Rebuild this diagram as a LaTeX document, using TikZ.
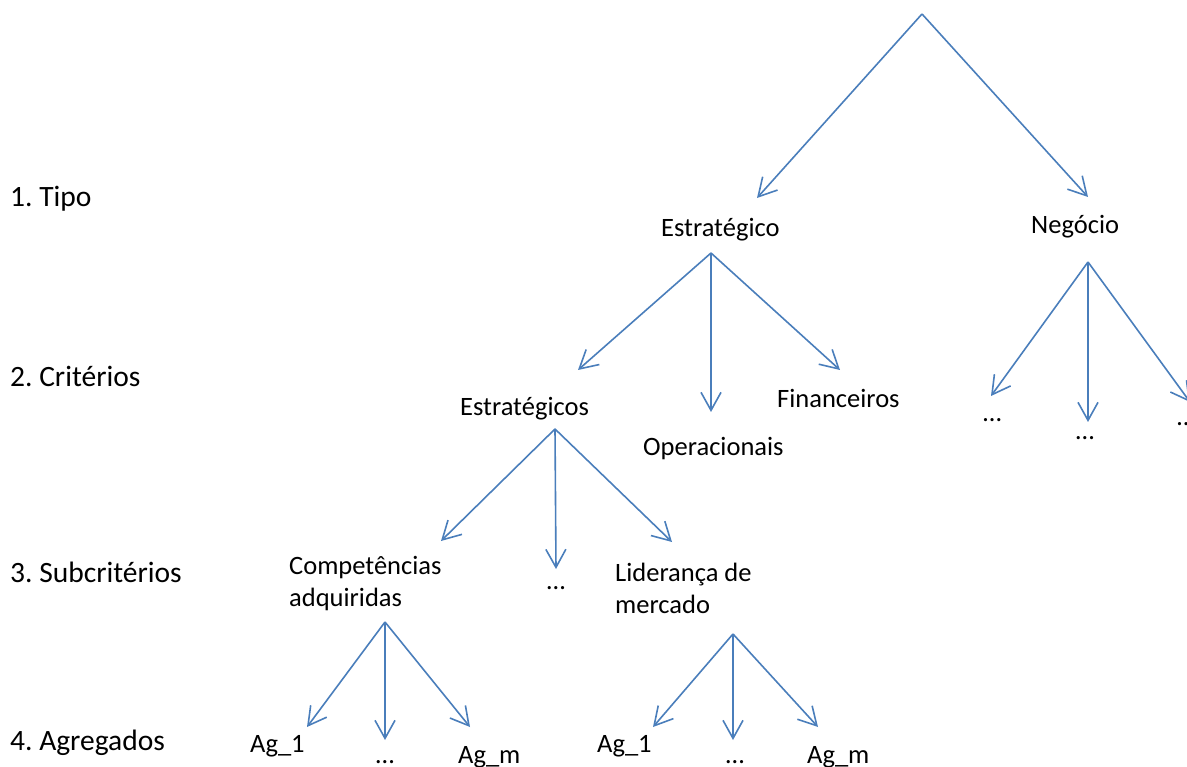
\documentclass[tikz,border=0pt]{standalone}
\usepackage{fontspec}
\setmainfont{Carlito}
\usetikzlibrary{arrows.meta}
\definecolor{edgeblue}{HTML}{4A7EBB}
\frenchspacing
\tikzset{
  lbl/.style={inner sep=0pt, font=\fontsize{26.5}{32}\selectfont, anchor=base west},
  lblc/.style={inner sep=0pt, font=\fontsize{26.5}{32}\selectfont, anchor=base},
  lvl/.style={inner sep=0pt, font=\fontsize{29.5}{35}\selectfont, anchor=base west},
  edge/.style={draw=edgeblue, line width=1.6pt, -{Straight Barb[length=18pt,width=20pt,line width=1.6pt]}}
}
\begin{document}
\begin{tikzpicture}[x=1pt,y=-1pt]
\useasboundingbox (0,0) rectangle (1187,767);
\clip (0,0) rectangle (1187,767);
% level labels
\node[lvl] (l1) at (10,207) {1. Tipo};
\node[lvl] (l2) at (10,387) {2. Critérios};
\node[lvl] (l3) at (10,582) {3. Subcritérios};
\node[lvl] (l4) at (10,750) {4. Agregados};
% nodes
\coordinate (root) at (922,14);
\node[lbl] (estr) at (661,237) {Estratégico};
\node[lbl] (neg) at (1031,234) {Negócio};
\node[lbl] (estrs) at (460,416) {Estratégicos};
\node[lbl] (oper) at (643,455) {Operacionais};
\node[lbl] (fin) at (777,408) {Financeiros};
\node[lbl] (nd1) at (983,421) {…};
\node[lbl,anchor=base] (nd2) at (1085,439) {…};
\node[lbl] (nd3) at (1177,426) {…};
\node[lbl, align=left, anchor=north west] (comp) at (289,556) {Competências\\adquiridas};
\node[lblc] (sd) at (556,589) {…};
\node[lbl, align=left, anchor=north west] (lid) at (615,563) {Liderança de\\mercado};
\node[lbl] (a1) at (250,752) {Ag\_1};
\node[lblc] (a2) at (385,763) {…};
\node[lbl] (a3) at (458,763) {Ag\_m};
\node[lbl] (b1) at (597,752) {Ag\_1};
\node[lblc] (b2) at (735,763) {…};
\node[lbl] (b3) at (807,763) {Ag\_m};
% apex / tip coordinates
\coordinate (tEstr) at (757,198);
\coordinate (tNeg) at (1088,197);
\coordinate (pEstr) at (711,253);
\coordinate (tEstrs) at (578,370);
\coordinate (tOper) at (711,412);
\coordinate (tFin) at (840,370);
\coordinate (pNeg) at (1088,262);
\coordinate (tN1) at (991,396);
\coordinate (tN2) at (1088,422);
\coordinate (tN3) at (1190,402);
\coordinate (pEstrs) at (555,429);
\coordinate (tComp) at (441,541);
\coordinate (tSd) at (556,569);
\coordinate (tLid) at (672,542);
\coordinate (pComp) at (385,622);
\coordinate (tA1) at (307,727);
\coordinate (tA2) at (385,740);
\coordinate (tA3) at (470,727);
\coordinate (pLid) at (733,634);
\coordinate (tB1) at (653,727);
\coordinate (tB2) at (733,740);
\coordinate (tB3) at (818,727);
% edges
\draw[edge] (root) -- (tEstr);
\draw[edge] (root) -- (tNeg);
\draw[edge] (pEstr) -- (tEstrs);
\draw[edge] (pEstr) -- (tOper);
\draw[edge] (pEstr) -- (tFin);
\draw[edge] (pNeg) -- (tN1);
\draw[edge] (pNeg) -- (tN2);
\draw[edge] (pNeg) -- (tN3);
\draw[edge] (pEstrs) -- (tComp);
\draw[edge] (pEstrs) -- (tSd);
\draw[edge] (pEstrs) -- (tLid);
\draw[edge] (pComp) -- (tA1);
\draw[edge] (pComp) -- (tA2);
\draw[edge] (pComp) -- (tA3);
\draw[edge] (pLid) -- (tB1);
\draw[edge] (pLid) -- (tB2);
\draw[edge] (pLid) -- (tB3);
\end{tikzpicture}
\end{document}
